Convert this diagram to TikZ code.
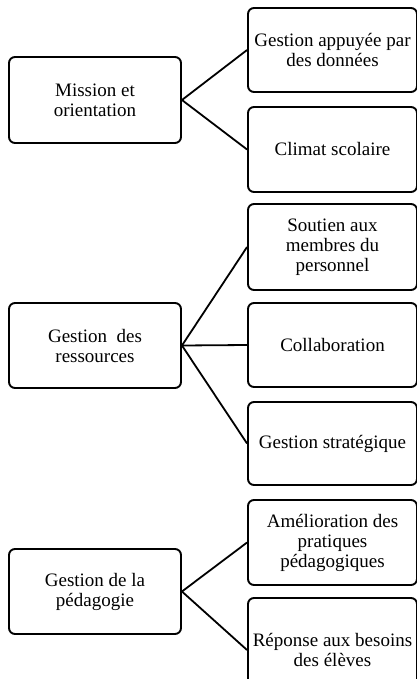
\documentclass[tikz,border=0pt]{standalone}
\usepackage{fontspec}
\setmainfont{Liberation Serif}
\begin{document}
\begin{tikzpicture}[x=1pt,y=-1pt,
  box/.style={draw=black,line width=1.9pt,rounded corners=6pt,fill=white,
    align=center,font=\fontsize{19}{20}\selectfont,inner sep=0pt},
  link/.style={draw=black,line width=1.8pt}]
\useasboundingbox (0,0) rectangle (417,679);
\begin{scope}
\clip (0,0) rectangle (417,679);
\newcommand{\mybox}[6]{%
  \node[box,minimum width=#4-#2,minimum height=#5-#3] (#1) at ({(#2+#4)/2},{(#3+#5)/2}) {#6};}
\mybox{L1}{9}{57}{181}{143}{Mission et\\orientation}
\mybox{L2}{9}{303}{181}{388}{Gestion\ \ des\\ressources}
\mybox{L3}{9}{549}{181}{634}{Gestion de la\\pédagogie}
\mybox{R1}{248}{8}{417}{92}{Gestion appuyée par\\des données}
\mybox{R2}{248}{107}{417}{192}{Climat scolaire}
\mybox{R3}{248}{204}{417}{290}{Soutien aux\\membres du\\personnel}
\mybox{R4}{248}{303}{417}{387}{Collaboration}
\mybox{R5}{248}{402}{417}{485}{Gestion stratégique}
\mybox{R6}{248}{500}{417}{585}{Amélioration des\\pratiques\\pédagogiques}
\mybox{R7}{248}{598}{417}{702}{Réponse aux besoins\\des élèves}
\draw[link] (L1.east) -- (R1.west);
\draw[link] (L1.east) -- (R2.west);
\draw[link] (L2.east) -- (R3.west);
\draw[link] (L2.east) -- (R4.west);
\draw[link] (L2.east) -- (R5.west);
\draw[link] (L3.east) -- (R6.west);
\draw[link] (L3.east) -- (R7.west);
\end{scope}
\end{tikzpicture}
\end{document}
